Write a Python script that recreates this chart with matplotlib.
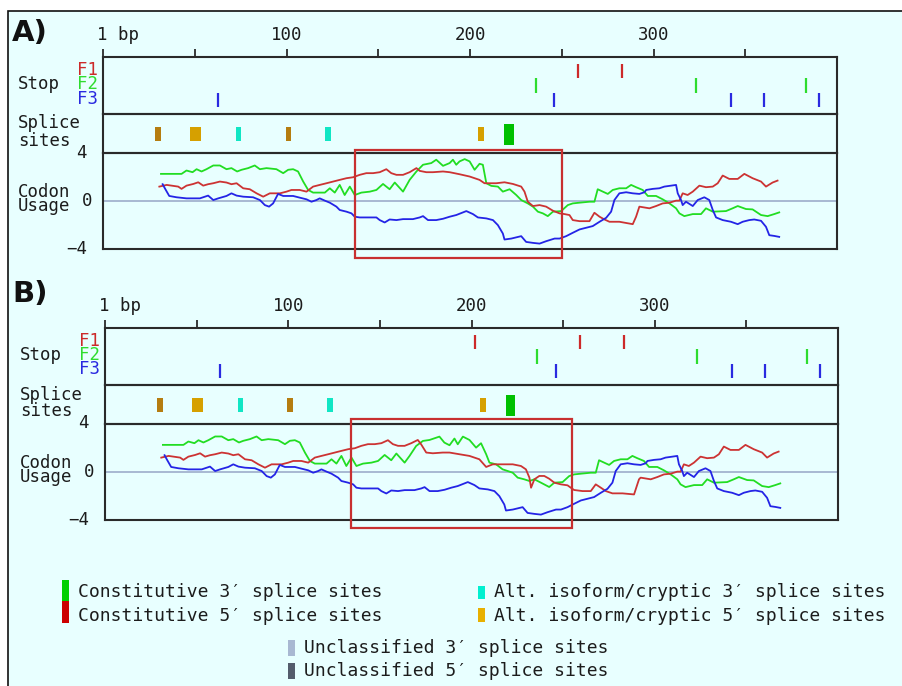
import numpy as np
import matplotlib.pyplot as plt
from matplotlib.patches import Rectangle

# --- Sequence window data (positions in bp, codon usage score) ---
AXIS_START, AXIS_END = 1, 401
TICK_POS = [1, 51, 101, 151, 201, 251, 301, 351]
TICK_LABELS = ['1 bp', '', '100', '', '200', '', '300', '']

# stop codons per reading frame
stop_f1_a = [260, 284]
stop_f1_b = [203, 260, 284]
stop_f2 = [237, 324, 384]
stop_f3 = [63.6, 247, 343, 361, 391]

# splice sites: centre position and class
splice_pos = [31, 51.4, 74.9, 102, 123.8, 207.1, 222.2]
splice_kind = ['alt5', 'alt5', 'alt3', 'alt5', 'alt3', 'alt5', 'const3']

# codon usage traces, construct A
green_a = [(32.6, 2.26), (43.8, 2.26), (46.5, 2.54), (49.8, 2.40), (52.0, 2.65), (54.7, 2.46),
           (57.4, 2.65), (61.1, 2.96), (64.7, 2.96), (68.3, 2.65), (71.0, 2.74), (74.1, 2.46),
           (76.5, 2.60), (80.1, 2.74), (83.7, 2.96), (86.5, 2.65), (90.1, 2.74), (95.5, 2.65),
           (99.2, 2.32), (101.9, 2.60), (104.6, 2.65), (107.3, 2.46), (110.1, 1.62), (112.8, 0.92),
           (115.5, 0.70), (121.9, 0.70), (124.6, 1.06), (127.3, 0.70), (130.0, 1.34), (132.7, 0.50),
           (135.5, 1.20), (138.2, 0.50), (141.8, 0.70), (146.4, 0.78), (150.0, 0.92), (153.6, 1.42),
           (157.2, 0.98), (160.0, 1.54), (164.5, 0.78), (168.1, 1.76), (171.8, 2.46), (175.4, 3.02),
           (179.9, 3.16), (182.6, 3.44), (186.3, 2.93), (189.9, 3.16), (191.7, 3.44), (193.5, 3.02),
           (195.3, 3.30), (198.1, 3.49), (200.8, 3.30), (203.5, 2.60), (206.2, 3.10), (208.0, 3.02),
           (209.9, 1.48), (212.6, 1.26), (216.2, 1.20), (218.9, 0.78), (222.6, 0.98), (226.2, 0.50),
           (228.9, 0.08), (232.5, -0.20), (235.3, -0.47), (238.0, -0.89), (240.7, -1.03), (243.4, -1.26),
           (246.2, -0.89), (250.7, -0.84), (254.3, -0.34), (257.0, -0.20), (260.7, -0.14), (266.1, -0.06),
           (268.8, -0.06), (270.6, 0.98), (273.4, 0.78), (276.1, 0.59), (278.8, 0.92), (282.4, 1.06),
           (286.1, 1.06), (288.8, 1.34), (291.5, 1.15), (295.1, 0.92), (297.9, 0.42), (302.4, 0.42),
           (306.0, 0.14), (309.7, -0.20), (313.3, -0.61), (315.1, -1.03), (317.8, -1.26), (322.4, -1.09),
           (326.9, -1.09), (329.6, -0.61), (333.3, -0.89), (340.5, -0.84), (344.1, -0.61), (346.9, -0.42),
           (351.4, -0.67), (355.0, -0.70), (359.6, -1.17), (363.2, -1.26), (366.8, -1.09), (369.5, -0.95)]

red_a = [(31.7, 1.20), (35.7, 1.34), (39.3, 1.26), (42.0, 1.20), (43.8, 1.01), (46.5, 1.28),
         (50.2, 1.42), (52.9, 1.56), (55.6, 1.28), (58.3, 1.40), (61.1, 1.48), (64.7, 1.62),
         (68.3, 1.54), (71.0, 1.40), (73.8, 1.48), (77.4, 1.06), (81.0, 0.98), (84.7, 0.64),
         (88.3, 0.36), (91.9, 0.64), (97.4, 0.64), (101.0, 0.78), (103.7, 0.92), (108.2, 0.92),
         (111.9, 0.78), (115.5, 1.20), (119.1, 1.34), (122.8, 1.48), (126.4, 1.62), (130.0, 1.76),
         (133.7, 1.90), (137.3, 1.98), (140.9, 2.18), (144.5, 2.32), (148.2, 2.32), (151.8, 2.40),
         (155.4, 2.65), (158.1, 2.32), (160.9, 2.18), (164.5, 2.18), (168.1, 2.40), (171.8, 2.74),
         (173.6, 2.51), (177.2, 2.40), (180.8, 2.40), (186.3, 2.46), (189.9, 2.40), (195.3, 2.23),
         (200.8, 2.04), (206.2, 1.76), (208.9, 1.48), (215.3, 1.48), (219.8, 1.56), (224.4, 1.42),
         (228.9, 1.20), (230.7, 0.78), (232.5, -0.06), (235.3, -0.42), (238.9, -0.34), (242.5, -0.47),
         (246.2, -0.81), (249.8, -1.03), (252.5, -1.09), (255.2, -1.17), (257.0, -1.59), (260.7, -1.68),
         (266.1, -1.68), (268.8, -0.98), (271.6, -1.31), (274.3, -1.54), (277.0, -1.73), (282.4, -1.73),
         (289.7, -1.93), (291.5, -1.31), (293.3, -0.47), (298.8, -0.61), (302.4, -0.42), (306.0, -0.20),
         (309.7, -0.14), (313.3, 0.03), (315.1, 0.03), (316.9, 0.64), (319.6, 0.50), (322.4, 0.78),
         (326.0, 1.28), (329.6, 1.15), (333.3, 1.20), (336.0, 1.48), (338.7, 2.12), (342.3, 1.84),
         (346.9, 1.84), (350.5, 2.26), (355.0, 1.90), (359.6, 1.62), (362.3, 1.20), (365.9, 1.54),
         (368.6, 1.70)]

blue_a = [(33.5, 1.40), (34.7, 1.06), (37.1, 0.42), (41.1, 0.31), (46.5, 0.22), (53.8, 0.22),
          (58.3, 0.45), (61.1, 0.08), (63.8, 0.22), (68.3, 0.42), (71.0, 0.64), (73.8, 0.45),
          (77.4, 0.36), (82.8, 0.31), (86.5, 0.08), (89.2, -0.34), (91.5, -0.47), (93.7, -0.20),
          (96.4, 0.59), (99.2, 0.42), (104.6, 0.42), (108.2, 0.28), (111.9, 0.14), (114.6, -0.06),
          (117.3, 0.08), (119.1, 0.22), (121.9, 0.03), (124.6, -0.14), (128.2, -0.47), (130.0, -0.75),
          (133.7, -0.89), (136.4, -1.03), (138.2, -1.31), (140.9, -1.37), (150.0, -1.37), (151.8, -1.59),
          (154.5, -1.79), (157.2, -1.54), (160.9, -1.59), (164.5, -1.51), (169.9, -1.51), (173.6, -1.37),
          (175.4, -1.26), (178.1, -1.59), (182.6, -1.59), (186.3, -1.48), (189.9, -1.31), (193.5, -1.17),
          (199.0, -0.84), (202.6, -1.09), (205.3, -1.37), (209.9, -1.45), (213.5, -1.59), (216.2, -2.01),
          (218.9, -2.71), (219.8, -3.21), (223.5, -3.13), (228.9, -2.93), (231.6, -3.41), (235.3, -3.49),
          (238.9, -3.55), (242.5, -3.35), (247.1, -3.13), (249.8, -3.13), (253.4, -2.93), (257.0, -2.65),
          (260.7, -2.37), (264.3, -2.23), (267.9, -2.09), (271.6, -1.73), (275.2, -1.40), (277.9, -0.89),
          (279.7, 0.08), (282.4, 0.64), (286.1, 0.73), (289.7, 0.64), (293.3, 0.59), (296.1, 0.73),
          (297.0, 0.92), (300.6, 1.01), (304.2, 1.06), (306.9, 1.20), (310.6, 1.28), (313.3, 1.34),
          (314.2, 0.64), (316.0, 0.08), (316.9, -0.34), (318.7, -0.06), (322.4, -0.42), (325.1, 0.08),
          (328.7, 0.31), (331.4, 0.08), (333.3, -0.75), (335.1, -1.37), (338.7, -1.59), (343.2, -1.73),
          (346.9, -1.93), (349.6, -1.73), (353.2, -1.59), (355.9, -1.54), (359.6, -1.65), (362.3, -2.15),
          (364.1, -2.85), (366.8, -2.91), (369.5, -2.99)]

# construct B differs from A only inside the edited window
green_b_window = [(167.2, 1.34), (170.8, 2.17), (174.5, 2.59), (178.1, 2.67), (183.5, 2.95), (186.2, 2.45),
                  (189.0, 2.23), (191.7, 2.79), (193.5, 2.31), (196.3, 2.95), (199.9, 2.67), (203.5, 2.03),
                  (206.2, 2.40), (209.0, 1.48), (210.8, 0.78), (214.4, 0.64), (218.0, 0.22), (220.8, 0.08),
                  (223.5, -0.06), (226.2, -0.47), (229.8, -0.61), (232.6, -0.75), (235.3, -0.61), (238.9, -0.89),
                  (243.4, -1.25), (246.2, -0.89)]
red_b_window = [(171.7, 2.67), (173.5, 2.31), (176.3, 1.62), (179.9, 1.56), (185.3, 1.62), (189.0, 1.62),
                (194.4, 1.48), (199.9, 1.34), (205.3, 1.06), (209.0, 0.42), (212.6, 0.64), (223.5, 0.64),
                (228.0, 0.50), (230.7, 0.22), (232.6, -0.47), (233.5, -1.31), (235.3, -0.61), (238.0, -0.33),
                (240.7, -0.33), (243.4, -0.56), (246.2, -0.89), (249.8, -1.03), (253.4, -1.11), (255.2, -1.31),
                (257.0, -1.50), (261.6, -1.59), (266.1, -1.59), (268.8, -1.03), (271.6, -1.31), (274.3, -1.59),
                (277.9, -1.78), (283.4, -1.78), (289.7, -1.87), (292.4, -0.61)]

# boxed region (start bp, end bp, top, bottom)
box_a = (138.2, 251.4, 4.25, -4.75)
box_b = (135.5, 256.0, 4.42, -4.67)

legend_labels = ['Constitutive 3\u2032 splice sites', 'Constitutive 5\u2032 splice sites',
                 'Alt. isoform/cryptic 3\u2032 splice sites', 'Alt. isoform/cryptic 5\u2032 splice sites',
                 'Unclassified 3\u2032 splice sites', 'Unclassified 5\u2032 splice sites']

# --- Styling ---
W, H = 903, 686
BG = '#e8ffff'
INK = '#1c1c1c'
FRAME = '#2a2a2a'
C_F1, C_F2, C_F3 = '#cc2a2a', '#2edc2e', '#2a2ae0'
C_GREEN, C_RED, C_BLUE = '#22dd22', '#cc3333', '#2424e6'
SPLICE_COLORS = {'alt5': '#d6a000', 'alt3': '#10e6c4', 'const3': '#00c000'}
SPLICE_DARK = '#b57d10'
MONO = ['DejaVu Sans Mono', 'DejaVu Sans']
FS = 12.5


def merge_window(base, window):
    lo, hi = window[0][0], window[-1][0]
    pts = [p for p in base if p[0] < lo or p[0] > hi] + list(window)
    pts.sort()
    return pts


green_b = merge_window(green_a, green_b_window)
red_b = merge_window(red_a, red_b_window)

fig = plt.figure(figsize=(W / 100, H / 100), dpi=100, facecolor='white')
fig.patches.append(Rectangle((8 / W, -0.1), 1.0, 1.1 - 11 / H, transform=fig.transFigure,
                             facecolor=BG, edgecolor='#111111', lw=1.2, zorder=-10))


def px_axes(x0, y0, x1, y1):
    ax = fig.add_axes([x0 / W, 1 - y1 / H, (x1 - x0) / W, (y1 - y0) / H])
    ax.set_facecolor('none')
    ax.set_xlim(AXIS_START, AXIS_END)
    for sp in ax.spines.values():
        sp.set_color(FRAME)
        sp.set_linewidth(1.5)
    ax.set_yticks([])
    ax.tick_params(axis='x', bottom=False, labelbottom=False)
    return ax


def ftext(x, y, s, **kw):
    kw.setdefault('family', MONO)
    kw.setdefault('fontsize', FS)
    kw.setdefault('color', INK)
    kw.setdefault('va', 'center')
    fig.text(x / W, 1 - y / H, s, **kw)


def draw_panel(letter, letter_y, left, right, top, stop_f1, green, red, blue, box):
    y_stop, y_splice, y_codon, y_bottom = top, top + 57, top + 96, top + 192

    # --- stop codon track with the position ruler on top ---
    ax_stop = px_axes(left, y_stop, right, y_splice)
    ax_stop.set_ylim(4, 0)
    ax_stop.set_xticks(TICK_POS)
    ax_stop.tick_params(axis='x', top=True, labeltop=False, length=5.8, width=1.3,
                        color=FRAME, direction='out')
    for pos, lab in zip(TICK_POS, TICK_LABELS):
        if not lab:
            continue
        dx = -4.3 if lab.endswith('bp') else 0
        ax_stop.annotate(lab, xy=(pos, 1), xycoords=('data', 'axes fraction'),
                         xytext=(dx, 15.8), textcoords='offset points',
                         ha='left' if dx else 'center', va='center',
                         family=MONO, fontsize=FS, color=INK)
    for row, (xs, col) in enumerate([(stop_f1, C_F1), (stop_f2, C_F2), (stop_f3, C_F3)], start=1):
        ax_stop.vlines(xs, row - 0.5, row + 0.5, color=col, lw=1.6)

    # --- splice site track ---
    ax_spl = px_axes(left, y_splice, right, y_codon)
    ax_spl.set_ylim(1, -1)
    widths = [3.3, 6.0, 2.9, 3.0, 3.3, 3.3, 5.1]
    for pos, kind, w in zip(splice_pos, splice_kind, widths):
        half = 0.54 if kind == 'const3' else 0.36
        col = SPLICE_COLORS[kind]
        if pos in (31, 102):
            col = SPLICE_DARK
        ax_spl.bar(pos, 2 * half, bottom=-half + 0.03, width=w, color=col, edgecolor='none')

    # --- codon usage track ---
    ax_cod = px_axes(left, y_codon, right, y_bottom)
    ax_cod.set_ylim(-4, 4)
    ax_cod.axhline(0, color='#a3b3cf', lw=1.3, zorder=1)
    for series, col in [(green, C_GREEN), (red, C_RED), (blue, C_BLUE)]:
        xs, ys = np.array(series).T
        ax_cod.plot(xs, ys, color=col, lw=1.3, zorder=3)
    x0, x1, ytop, ybot = box
    ax_cod.add_patch(Rectangle((x0, ybot), x1 - x0, ytop - ybot, fill=False,
                               edgecolor='#c83030', lw=1.6, clip_on=False, zorder=5))

    # --- track labels ---
    lx = left - 85
    ftext(12, letter_y, letter, family='DejaVu Sans', fontweight='bold', fontsize=21, color='#111111')
    ftext(lx, top + 27, 'Stop')
    ftext(left - 5, top + 13, 'F1', ha='right', color=C_F1)
    ftext(left - 5, top + 27, 'F2', ha='right', color=C_F2)
    ftext(left - 5, top + 41.5, 'F3', ha='right', color=C_F3)
    ftext(lx, top + 66.5, 'Splice')
    ftext(lx, top + 83.5, 'sites')
    ftext(left - 16, top + 95.5, '4', ha='right')
    ftext(lx, top + 135, 'Codon')
    ftext(lx, top + 149.5, 'Usage')
    ftext(left - 11, top + 144, '0', ha='right')
    ftext(left - 16, top + 192, '\u22124', ha='right')


draw_panel('A)', 33, 103, 837, 57, stop_f1_a, green_a, red_a, blue_a, box_a)
draw_panel('B)', 294, 105, 838, 328, stop_f1_b, green_b, red_b, blue_a, box_b)

# --- legend ---
legend_colors = ['#00d000', '#cc0000', '#00f0d0', '#e8b000', '#a8b8d2', '#545c6c']
legend_boxes = [(62, 580, 601), (62, 601, 623), (478, 586, 599), (478, 608, 622),
                (288, 640, 656), (288, 663, 679)]
legend_text_y = [592, 616, 592, 616, 648, 671]
for lab, col, (bx, by0, by1), ty in zip(legend_labels, legend_colors, legend_boxes, legend_text_y):
    fig.patches.append(Rectangle((bx / W, 1 - by1 / H), 7.5 / W, (by1 - by0) / H,
                                 transform=fig.transFigure, facecolor=col, edgecolor='none'))
    ftext(bx + 16, ty, lab, fontsize=13)

fig.savefig('out.png', dpi=100, facecolor=fig.get_facecolor())
